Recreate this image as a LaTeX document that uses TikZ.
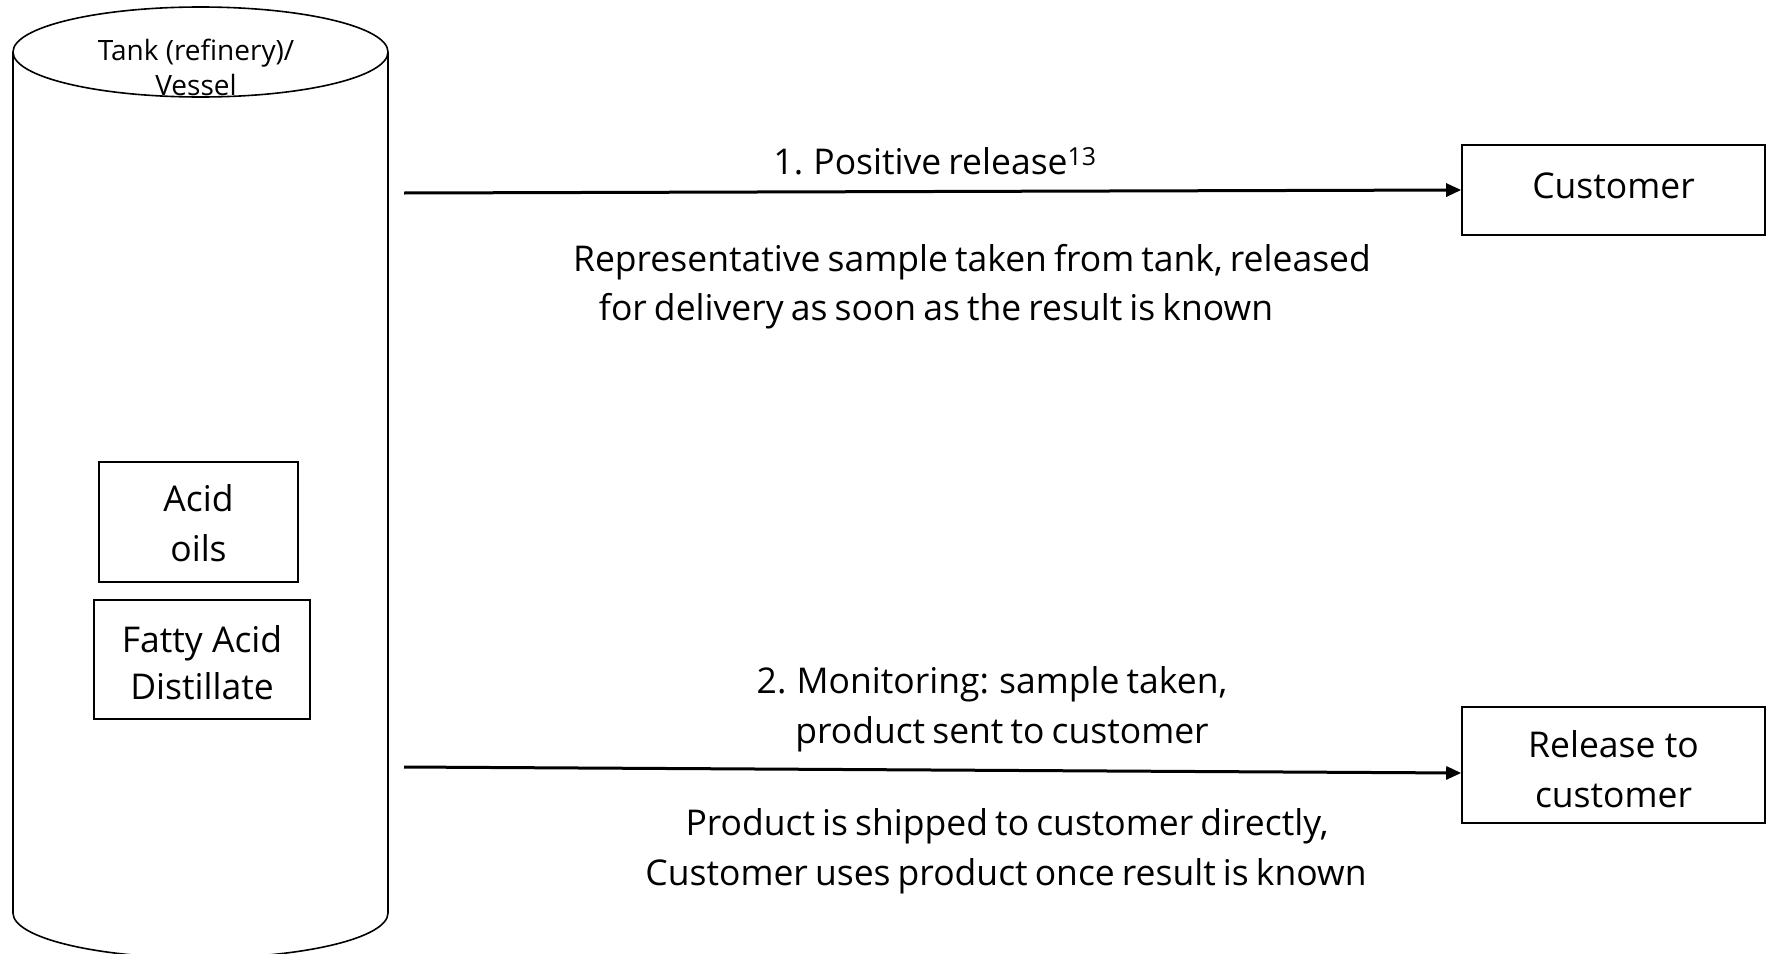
\documentclass[tikz,border=0pt]{standalone}
\usepackage{fontspec}
\setmainfont{Open Sans}
\usetikzlibrary{arrows.meta}
\newcommand{\tightspaces}{\spaceskip=0.2em plus 0.05em\relax}
\begin{document}
\begin{tikzpicture}[x=1pt,y=-1pt,
  freetxt/.style={font=\fontsize{35.5}{50}\selectfont\tightspaces, inner sep=0pt},
  boxtxt/.style={inner sep=0pt, align=center, font=\fontsize{35.5}{50}\selectfont},
  boxed/.style={draw, line width=1.6pt, inner sep=0pt},
  flow/.style={line width=3pt, -{Triangle[length=15pt,width=13pt]}}]
\useasboundingbox (0,0) rectangle (1769,953);

% tank (cylinder)
\draw[line width=1.6pt] (200.5,52) ellipse [x radius=187.5, y radius=45];
\draw[line width=1.6pt] (13,52) -- (13,913) arc [start angle=180, end angle=360, x radius=187.5, y radius=-45] -- (388,52);
\node[inner sep=0pt, align=center, font=\fontsize{28}{35}\selectfont] (tank) at (196,67) {Tank (refinery)/\\Vessel};

% contents of the tank
\node[boxed, minimum width=199pt, minimum height=120pt,
  label={[boxtxt, yshift=-1pt]center:Acid\\oils}] (acid) at (198.5,522) {};
\node[boxed, minimum width=216pt, minimum height=119pt,
  label={[boxtxt, font=\fontsize{35.5}{47}\selectfont, yshift=-3.5pt]center:Fatty Acid\\Distillate}] (fad) at (202,659.5) {};

% destinations
\node[boxed, minimum width=303pt, minimum height=90pt,
  label={[boxtxt, yshift=4.5pt]center:Customer}] (cust) at (1613.5,190) {};
\node[boxed, minimum width=303pt, minimum height=116pt,
  label={[boxtxt, yshift=-4.5pt]center:Release to\\customer}] (rel) at (1613.5,765) {};

% flows
\coordinate (a1) at (404,193);
\coordinate (a2) at (404,767);
\draw[flow] (a1) -- (cust.west);
\draw[flow] (a2) -- ([yshift=-8pt]rel.west);

% flow descriptions
\node[freetxt] (t1) at (935,161) {1. Positive release\textsuperscript{13}};
\node[freetxt] (t1a) at (972,262) {Representative sample taken from tank, released};
\node[freetxt] (t1b) at (936,311) {for delivery as soon as the result is known};
\node[freetxt] (t2) at (992,684) {2. Monitoring: sample taken,};
\node[freetxt] (t2a) at (1002,734) {product sent to customer};
\node[freetxt] (t2b) at (1007,826) {Product is shipped to customer directly,};
\node[freetxt] (t2c) at (1006,876) {Customer uses product once result is known};
\end{tikzpicture}
\end{document}
